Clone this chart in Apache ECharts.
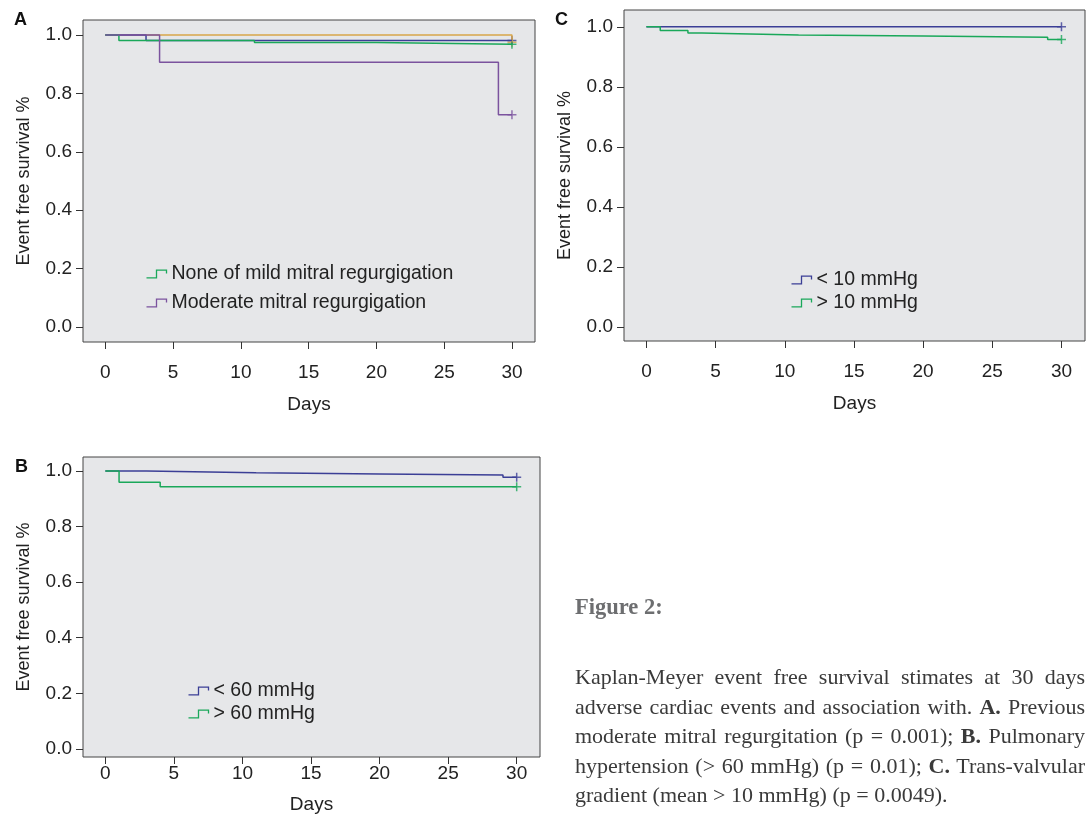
<!DOCTYPE html>
<html>
<head>
<meta charset="utf-8">
<script src="https://cdn.jsdelivr.net/npm/echarts@6/dist/echarts.min.js"></script>
<style>
  html, body { margin: 0; padding: 0; background: #fff; }
  #chart { width: 1087px; height: 818px; }
  .caption { position: absolute; left: 575px; top: 592px; width: 510px;
             font-family: "Liberation Serif", "Times New Roman", serif; color: #3a3a3a; }
  .caption .fig { font-weight: bold; color: #6d6e70; font-size: 22.5px; line-height: 30px; margin-bottom: 40px; }
  .caption .ln { font-size: 22px; line-height: 29.5px; white-space: nowrap;
                 text-align: justify; text-align-last: justify; }
  .caption .ln.last { text-align-last: left; }
</style>
</head>
<body>
<div id="chart"></div>
<div class="caption">
  <div class="fig">Figure 2:</div>
  <div class="ln">Kaplan-Meyer event free survival stimates at 30 days</div>
  <div class="ln">adverse cardiac events and association with. <b>A.</b> Previous</div>
  <div class="ln">moderate mitral regurgitation (p = 0.001); <b>B.</b> Pulmonary</div>
  <div class="ln">hypertension (&gt; 60 mmHg) (p = 0.01); <b>C.</b> Trans-valvular</div>
  <div class="ln last">gradient (mean &gt; 10 mmHg) (p = 0.0049).</div>
</div>
<script>
// tick labels
var xTicks = [0, 5, 10, 15, 20, 25, 30];
var yTicks = [0, 0.2, 0.4, 0.6, 0.8, 1.0];

// panel A - mitral regurgitation
var aNoneMild = [[0, 1], [1, 0.981], [11, 0.974], [20, 0.968], [30, 0.968]];
var aModerate = [[0, 1], [4, 0.906], [29, 0.727], [30, 0.727]];
var aBlue = [[0, 1], [3, 0.981], [30, 0.981]];
var aOrange = [[0, 1], [30, 1], [30, 0.975]];

// panel B - pulmonary hypertension
var bBelow60 = [[0, 1], [3, 0.993], [11, 0.989], [20, 0.985], [29, 0.977], [30, 0.977]];
var bAbove60 = [[0, 1], [1, 0.959], [4, 0.943], [30, 0.943]];

// panel C - trans-valvular gradient
var cBelow10 = [[0, 1], [30, 1]];
var cAbove10 = [[0, 1], [1, 0.988], [3, 0.979], [4, 0.973], [11, 0.969], [20, 0.965], [29, 0.958], [30, 0.958]];

var GREEN = '#1aa85a', PURPLE = '#7b539e', BLUE = '#3b3f96', ORANGE = '#d8a64a';
var FONT = '"Liberation Sans", Arial, sans-serif';
var STEP_ICON = 'path://M0,9 L9,9 L9,2 L18,2 L18,5';
var PLUS = 'path://M5,0 L5,10 M0,5 L10,5';

var chart = echarts.init(document.getElementById('chart'));

function xAx(grid, min, max, margin, gap) {
    return {
        gridIndex: grid, type: 'value', min: min, max: max,
        name: 'Days', nameLocation: 'middle', nameGap: gap,
        nameTextStyle: { fontFamily: FONT, fontSize: 19, color: '#222' },
        axisLine: { show: false, onZero: false },
        axisTick: { show: true, length: 7, customValues: xTicks, lineStyle: { color: '#333' } },
        axisLabel: { customValues: xTicks, margin: margin, fontFamily: FONT, fontSize: 19, color: '#222' },
        splitLine: { show: false }
    };
}
function yAx(grid, min, max) {
    return {
        gridIndex: grid, type: 'value', min: min, max: max,
        name: 'Event free survival %', nameLocation: 'middle', nameGap: 50,
        nameTextStyle: { fontFamily: FONT, fontSize: 18, color: '#222' },
        axisLine: { show: false, onZero: false },
        axisTick: { show: true, length: 7, customValues: yTicks, lineStyle: { color: '#333' } },
        axisLabel: { customValues: yTicks, margin: 11, fontFamily: FONT, fontSize: 19, color: '#222',
            formatter: function (v) { return v.toFixed(1); } },
        splitLine: { show: false }
    };
}
function km(name, data, color, idx) {
    return { name: name, type: 'line', step: 'end', data: data, xAxisIndex: idx, yAxisIndex: idx,
        symbol: 'none', lineStyle: { color: color, width: 1.5 }, itemStyle: { color: color },
        animation: false };
}
function censor(name, data, color, idx) {
    return { name: name, type: 'scatter', data: [data[data.length - 1]], xAxisIndex: idx, yAxisIndex: idx,
        symbol: PLUS, symbolSize: 9,
        itemStyle: { color: 'none', borderColor: color, borderWidth: 1.5 }, animation: false };
}
function leg(left, top, gap, items) {
    return {
        left: left, top: top, orient: 'vertical', itemGap: gap, itemWidth: 20, itemHeight: 9,
        textStyle: { fontFamily: FONT, fontSize: 19.5, color: '#222', lineHeight: 20 },
        data: items.map(function (it) {
            return { name: it[0], icon: STEP_ICON,
                itemStyle: { color: 'none', borderColor: it[1], borderWidth: 1.3 } };
        })
    };
}
function letter(t, x, y) {
    return { type: 'text', left: x, top: y,
        style: { text: t, font: 'bold 18px ' + FONT, fill: '#111' } };
}
function box(left, top, width, height) {
    return { left: left, top: top, width: width, height: height, outerBoundsMode: 'none',
        show: true, backgroundColor: '#e6e7e9', borderColor: '#444', borderWidth: 1 };
}

chart.setOption({
    animation: false,
    grid: [box(83, 20, 452, 322), box(83, 457, 457, 300), box(624, 10, 461, 331)],
    xAxis: [xAx(0, -1.65, 31.7, 21, 53), xAx(1, -1.63, 31.7, 7, 38), xAx(2, -1.62, 31.7, 21, 53)],
    yAxis: [yAx(0, -0.051, 1.051), yAx(1, -0.029, 1.05), yAx(2, -0.047, 1.056)],
    legend: [
        leg(139, 259, 9, [['None of mild mitral regurgigation', GREEN], ['Moderate mitral regurgigation', PURPLE]]),
        leg(181, 676, 3, [['< 60 mmHg', BLUE], ['> 60 mmHg', GREEN]]),
        leg(784, 265, 3, [['< 10 mmHg', BLUE], ['> 10 mmHg', GREEN]])
    ],
    graphic: [letter('A', 14, 11), letter('B', 15, 458), letter('C', 555, 11)],
    series: [
        km('A orange', aOrange, ORANGE, 0),
        km('A blue', aBlue, BLUE, 0),
        km('None of mild mitral regurgigation', aNoneMild, GREEN, 0),
        km('Moderate mitral regurgigation', aModerate, PURPLE, 0),
        censor('A orange', aOrange, ORANGE, 0),
        censor('A blue', aBlue, BLUE, 0),
        censor('None of mild mitral regurgigation', aNoneMild, GREEN, 0),
        censor('Moderate mitral regurgigation', aModerate, PURPLE, 0),

        km('< 60 mmHg', bBelow60, BLUE, 1),
        km('> 60 mmHg', bAbove60, GREEN, 1),
        censor('< 60 mmHg', bBelow60, BLUE, 1),
        censor('> 60 mmHg', bAbove60, GREEN, 1),

        km('< 10 mmHg', cBelow10, BLUE, 2),
        km('> 10 mmHg', cAbove10, GREEN, 2),
        censor('< 10 mmHg', cBelow10, BLUE, 2),
        censor('> 10 mmHg', cAbove10, GREEN, 2)
    ]
});
</script>
</body>
</html>
